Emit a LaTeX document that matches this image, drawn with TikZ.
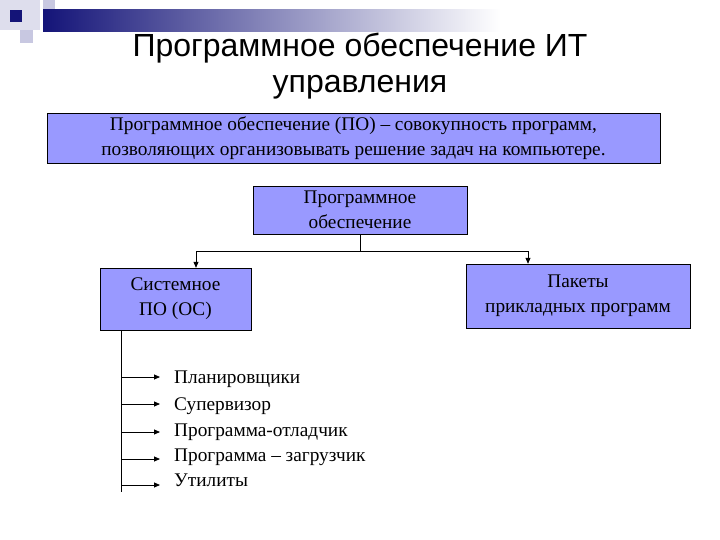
\documentclass[tikz,border=0pt]{standalone}
\usepackage{fontspec}
\setmainfont{Liberation Serif}
\newfontfamily\titlefont{Liberation Sans}
\usetikzlibrary{arrows.meta}
\definecolor{boxfill}{RGB}{153,153,255}
\definecolor{darkblue}{RGB}{20,20,120}
\definecolor{lightsq}{RGB}{200,200,225}
\tikzset{
  box/.style={draw=black, fill=boxfill, align=center, font=\fontsize{19.3}{25}\selectfont, inner sep=0pt},
  conn/.style={draw=black, line width=0.8pt},
  arr/.style={conn, -{Triangle[length=6pt,width=5pt]}},
  item/.style={anchor=west, font=\fontsize{19.3}{22}\selectfont, inner sep=0pt}
}
\begin{document}
\begin{tikzpicture}[x=1pt,y=-1pt]
\useasboundingbox (0,0) rectangle (720,540);
\fill[white] (0,0) rectangle (720,540);
% decoration
\fill[lightsq!60] (0,0) rectangle (40,30);
\fill[lightsq] (43,0) rectangle (55,20);
\fill[lightsq] (20,30) rectangle (33,43);
\fill[left color=darkblue, right color=white] (43,10) rectangle (500,32);
\fill[darkblue] (10,10) rectangle (22,22);
% title
\node[font=\titlefont\fontsize{32}{36}\selectfont, align=center] (title) at (360,66) {Программное обеспечение ИТ\\управления};
% boxes
\node[box, minimum width=613pt, minimum height=50pt] (def) at (353.5,138) {Программное обеспечение (ПО) -- совокупность программ,\\позволяющих организовывать решение задач на компьютере.};
\node[box, minimum width=214pt, minimum height=48pt] (po) at (360,210) {Программное\\обеспечение};
\node[box, minimum width=151pt, minimum height=62pt] (sys) at (175.5,299) {Системное\\ПО (ОС)};
\node[box, minimum width=224pt, minimum height=64pt] (app) at (578,296) {Пакеты\\прикладных программ};
\coordinate (j) at (360,251);
\draw[conn] (po.south) -- (j);
\draw[arr] (j) -| (sys.north -| 196,0);
\draw[arr] (j) -| (app.north -| 528,0);
\coordinate (vt) at (121,330);
\coordinate (vb) at (121,492);
\draw[conn] (vt) -- (vb);
\foreach \n/\y/\t in {a/379/Планировщики, b/406/Супервизор, c/432/Программа-отладчик, d/457/Программа -- загрузчик, e/480/Утилиты}{
  \node[item] (t\n) at (174,\y) {\t};
}
\foreach \n/\y in {a/377, b/404, c/432, d/459, e/485}{
  \coordinate (s\n) at (121,\y);
  \coordinate (e\n) at (160,\y);
  \draw[arr] (s\n) -- (e\n);
}
\end{tikzpicture}
\end{document}
